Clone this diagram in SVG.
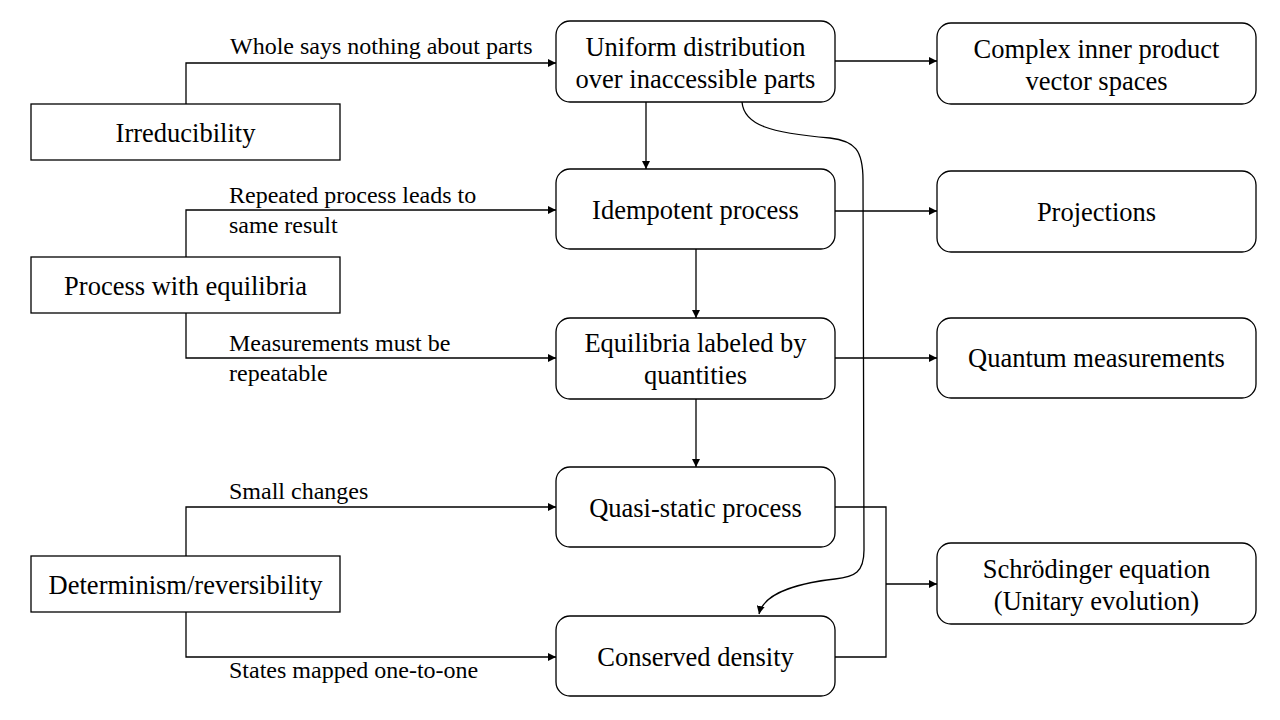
<svg xmlns="http://www.w3.org/2000/svg" width="1280" height="720" viewBox="0 0 1280 720">
<style>
.box{fill:#fff;stroke:#000;stroke-width:1.3}
.t{font-family:"Liberation Serif","Times New Roman",serif;font-size:26.5px;fill:#000;text-anchor:middle}
.l{font-family:"Liberation Serif","Times New Roman",serif;font-size:24px;fill:#000}
.c{fill:none;stroke:#000;stroke-width:1.3}
</style>
<defs>
<marker id="a" viewBox="0 0 10 10" refX="10" refY="5" markerWidth="8" markerHeight="8" markerUnits="userSpaceOnUse" orient="auto">
<path d="M0,0 L10,5 L0,10 z" fill="#000"/>
</marker>
</defs>
<rect width="1280" height="720" fill="#fff"/>
<g id="connectors">
<path class="c" d="M186,104 V63 H556" marker-end="url(#a)"/>
<path class="c" d="M835,61 H937" marker-end="url(#a)"/>
<path class="c" d="M646,102 V169" marker-end="url(#a)"/>
<path class="c" d="M742,102 C744,125 770,133 830,138 C855,141 863,150 863,180 L864,550 C864,572 855,577 835,579 C790,584 763,596 759,614" marker-end="url(#a)"/>
<path class="c" d="M835,211 H937" marker-end="url(#a)"/>
<path class="c" d="M696,249 V318" marker-end="url(#a)"/>
<path class="c" d="M835,358 H937" marker-end="url(#a)"/>
<path class="c" d="M696,399 V467" marker-end="url(#a)"/>
<path class="c" d="M186,257 V210 H556" marker-end="url(#a)"/>
<path class="c" d="M186,313 V358 H556" marker-end="url(#a)"/>
<path class="c" d="M186,556 V507 H556" marker-end="url(#a)"/>
<path class="c" d="M186,612 V657 H556" marker-end="url(#a)"/>
<path class="c" d="M835,507 H886 V657 H835"/>
<path class="c" d="M886,584 H937" marker-end="url(#a)"/>
<text class="l" x="230" y="54">Whole says nothing about parts</text>
<text class="l" x="229" y="203">Repeated process leads to</text>
<text class="l" x="229" y="233">same result</text>
<text class="l" x="229" y="351">Measurements must be</text>
<text class="l" x="229" y="381">repeatable</text>
<text class="l" x="229" y="499">Small  changes</text>
<text class="l" x="229" y="678">States mapped one-to-one</text>
</g>
<g id="irreducibility"><rect class="box" x="31" y="104" width="309" height="56"/><text class="t" x="185.5" y="142">Irreducibility</text></g>
<g id="process-equilibria"><rect class="box" x="31" y="257" width="309" height="56"/><text class="t" x="185.5" y="295">Process with equilibria</text></g>
<g id="determinism"><rect class="box" x="31" y="556" width="309" height="56"/><text class="t" x="185.5" y="594">Determinism/reversibility</text></g>
<g id="uniform"><rect class="box" x="556" y="21" width="279" height="81" rx="14"/><text class="t" x="695.5" y="56">Uniform distribution</text><text class="t" x="695.5" y="88">over inaccessible parts</text></g>
<g id="idempotent"><rect class="box" x="556" y="169" width="279" height="80" rx="14"/><text class="t" x="695.5" y="219">Idempotent process</text></g>
<g id="equilibria-labeled"><rect class="box" x="556" y="318" width="279" height="81" rx="14"/><text class="t" x="695.5" y="352">Equilibria labeled by</text><text class="t" x="695.5" y="384">quantities</text></g>
<g id="quasi-static"><rect class="box" x="556" y="467" width="279" height="80" rx="14"/><text class="t" x="695.5" y="517">Quasi-static process</text></g>
<g id="conserved"><rect class="box" x="556" y="616" width="279" height="80" rx="14"/><text class="t" x="695.5" y="666">Conserved density</text></g>
<g id="complex"><rect class="box" x="937" y="23" width="319" height="81" rx="14"/><text class="t" x="1096.5" y="58">Complex inner product</text><text class="t" x="1096.5" y="90">vector spaces</text></g>
<g id="projections"><rect class="box" x="937" y="171" width="319" height="81" rx="14"/><text class="t" x="1096.5" y="221">Projections</text></g>
<g id="quantum"><rect class="box" x="937" y="318" width="319" height="80" rx="14"/><text class="t" x="1096.5" y="367">Quantum measurements</text></g>
<g id="schrodinger"><rect class="box" x="937" y="543" width="319" height="81" rx="14"/><text class="t" x="1096.5" y="578">Schrödinger equation</text><text class="t" x="1096.5" y="610">(Unitary evolution)</text></g>
</svg>
